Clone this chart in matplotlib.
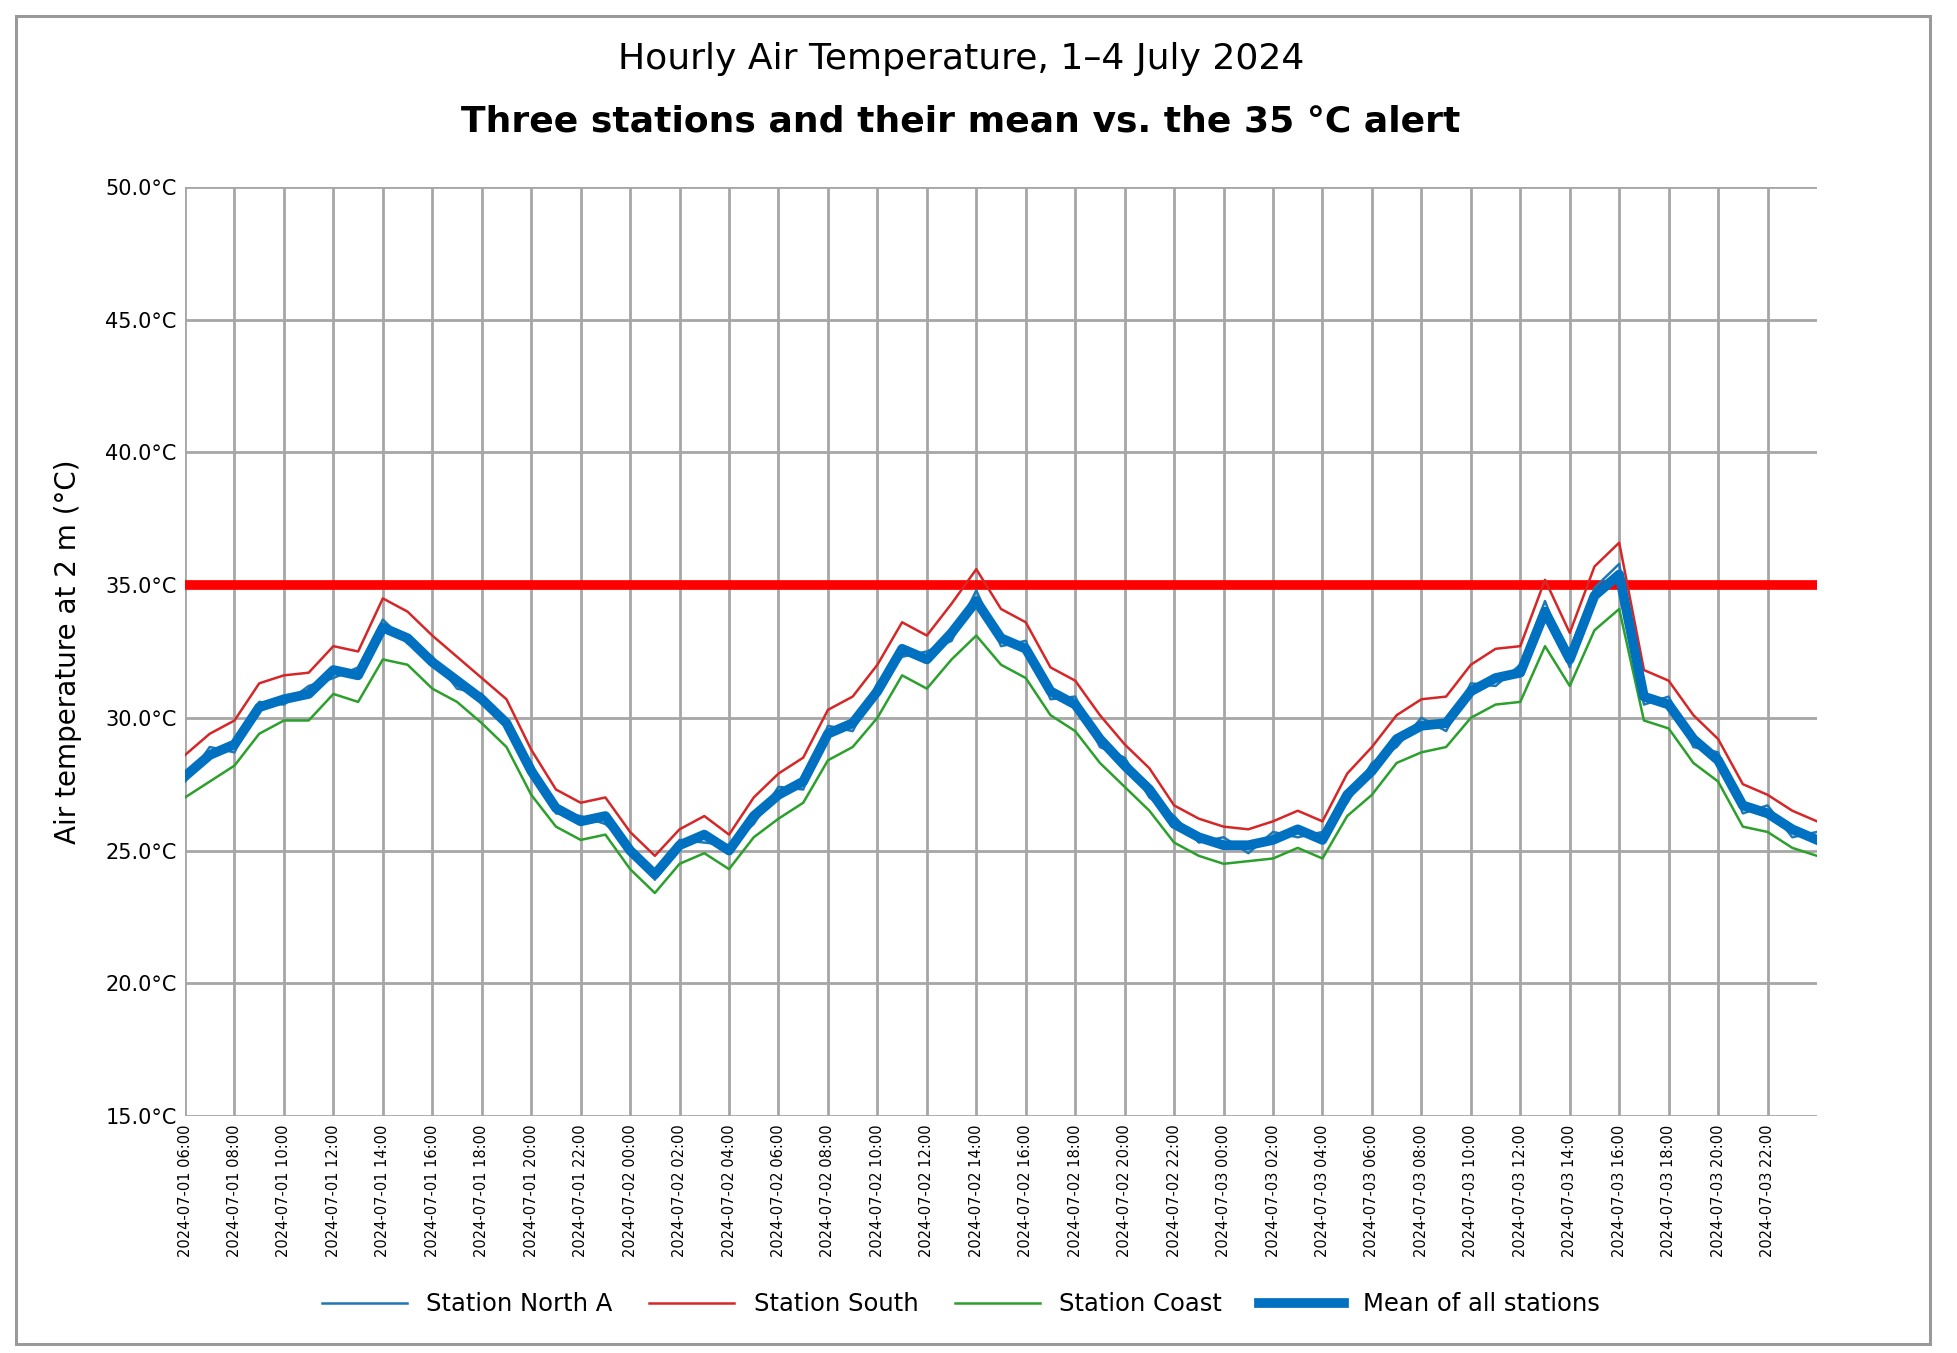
import matplotlib
matplotlib.use("Agg")
import matplotlib.pyplot as plt
import matplotlib.dates as mdates
import matplotlib.patches as patches
import numpy as np
import pandas as pd

# hourly readings, 1 July 2024 06:00 onwards
times = pd.date_range("2024-07-01 06:00", periods=67, freq="h")

station_north = [27.6, 28.9, 28.7, 30.6, 30.5, 31.2, 31.5, 31.9, 33.7, 32.8,
                 32.3, 31.1, 30.9, 29.6, 28.3, 26.4, 26.3, 26.0, 25.2, 23.9,
                 25.4, 25.3, 25.2, 26.0, 27.4, 27.3, 29.7, 29.5, 31.3, 32.3,
                 32.5, 32.9, 34.8, 32.7, 32.9, 30.7, 30.8, 28.9, 28.5, 27.0,
                 26.3, 25.3, 25.5, 24.9, 25.7, 25.5, 25.7, 26.8, 28.3, 28.9,
                 30.0, 29.5, 31.3, 31.2, 32.0, 34.4, 31.9, 34.9, 35.8, 30.5,
                 30.8, 28.9, 28.7, 26.4, 26.7, 25.5, 25.7]

station_south = [28.6, 29.4, 29.9, 31.3, 31.6, 31.7, 32.7, 32.5, 34.5, 34.0,
                 33.1, 32.3, 31.5, 30.7, 28.8, 27.3, 26.8, 27.0, 25.7, 24.8,
                 25.8, 26.3, 25.6, 27.0, 27.9, 28.5, 30.3, 30.8, 32.0, 33.6,
                 33.1, 34.3, 35.6, 34.1, 33.6, 31.9, 31.4, 30.1, 29.0, 28.1,
                 26.7, 26.2, 25.9, 25.8, 26.1, 26.5, 26.1, 27.9, 28.9, 30.1,
                 30.7, 30.8, 32.0, 32.6, 32.7, 35.2, 33.2, 35.7, 36.6, 31.8,
                 31.4, 30.1, 29.2, 27.5, 27.1, 26.5, 26.1]

station_coast = [27.0, 27.6, 28.2, 29.4, 29.9, 29.9, 30.9, 30.6, 32.2, 32.0,
                 31.1, 30.6, 29.8, 28.9, 27.1, 25.9, 25.4, 25.6, 24.3, 23.4,
                 24.5, 24.9, 24.3, 25.5, 26.2, 26.8, 28.4, 28.9, 30.0, 31.6,
                 31.1, 32.2, 33.1, 32.0, 31.5, 30.1, 29.5, 28.3, 27.4, 26.5,
                 25.3, 24.8, 24.5, 24.6, 24.7, 25.1, 24.7, 26.3, 27.1, 28.3,
                 28.7, 28.9, 30.0, 30.5, 30.6, 32.7, 31.2, 33.3, 34.1, 29.9,
                 29.6, 28.3, 27.6, 25.9, 25.7, 25.1, 24.8]

station_mean = [27.8, 28.6, 29.0, 30.4, 30.7, 30.9, 31.8, 31.6, 33.4, 33.0,
                32.1, 31.4, 30.7, 29.8, 28.0, 26.6, 26.1, 26.3, 25.0, 24.1,
                25.2, 25.6, 25.0, 26.3, 27.1, 27.6, 29.4, 29.8, 31.0, 32.6,
                32.2, 33.2, 34.4, 33.0, 32.6, 31.0, 30.5, 29.2, 28.2, 27.3,
                26.0, 25.5, 25.2, 25.2, 25.4, 25.8, 25.4, 27.1, 28.0, 29.2,
                29.7, 29.8, 31.0, 31.5, 31.7, 34.0, 32.2, 34.6, 35.4, 30.8,
                30.5, 29.2, 28.4, 26.7, 26.4, 25.8, 25.4]

heat_threshold = 35
y_ticks = [15, 20, 25, 30, 35, 40, 45, 50]

series_labels = ["Station North A", "Station South", "Station Coast", "Mean of all stations"]

fig = plt.figure(figsize=(19.58, 13.53), dpi=100)
ax = fig.add_axes([0.0945, 0.1752, 0.8335, 0.6866])

ax.plot(times, station_north, color="tab:blue", lw=1.8, label=series_labels[0], zorder=3)
ax.plot(times, station_south, color="tab:red", lw=1.8, label=series_labels[1], zorder=3)
ax.plot(times, station_coast, color="tab:green", lw=1.8, label=series_labels[2], zorder=3)
ax.plot(times, station_mean, color="#0070C0", lw=7, label=series_labels[3], zorder=4)
ax.axhline(heat_threshold, color="#FF0000", lw=7, zorder=2)

ax.set_ylim(y_ticks[0], y_ticks[-1])
ax.set_yticks(y_ticks)
ax.yaxis.set_major_formatter(matplotlib.ticker.FormatStrFormatter("%.1f°C"))
ax.set_xlim(times[0], times[-1])
ax.set_xticks(times[0:66:2])
ax.xaxis.set_major_formatter(mdates.DateFormatter("%Y-%m-%d %H:%M"))
plt.setp(ax.get_xticklabels(), rotation=90, fontsize=10.5)
plt.setp(ax.get_yticklabels(), fontsize=15)
ax.tick_params(axis="both", length=0, pad=6)

ax.grid(True, color="#a6a6a6", lw=2.0)
ax.set_axisbelow(True)
for s in ax.spines.values():
    s.set_visible(False)

ax.set_ylabel("Air temperature at 2 m (°C)", fontsize=20)
ax.yaxis.set_label_coords(-0.063, 0.5)

fig.text(0.4908, 0.949, "Hourly Air Temperature, 1–4 July 2024",
         ha="center", va="baseline", fontsize=26)
fig.text(0.4908, 0.903, "Three stations and their mean vs. the 35 °C alert",
         ha="center", va="baseline", fontsize=26, fontweight="bold")

fig.legend(loc="center", bbox_to_anchor=(0.4908, 0.036), ncol=4, frameon=False,
           fontsize=17.5, handlelength=3.5, handletextpad=0.8, columnspacing=1.5)

# thin frame round the whole figure
fig.patches.append(patches.Rectangle((16 / 1958, 9 / 1353), 1914 / 1958, 1328 / 1353,
                                     transform=fig.transFigure, fill=False,
                                     edgecolor="#9a9a9a", lw=2.2))

fig.savefig("out.png", dpi=100)
